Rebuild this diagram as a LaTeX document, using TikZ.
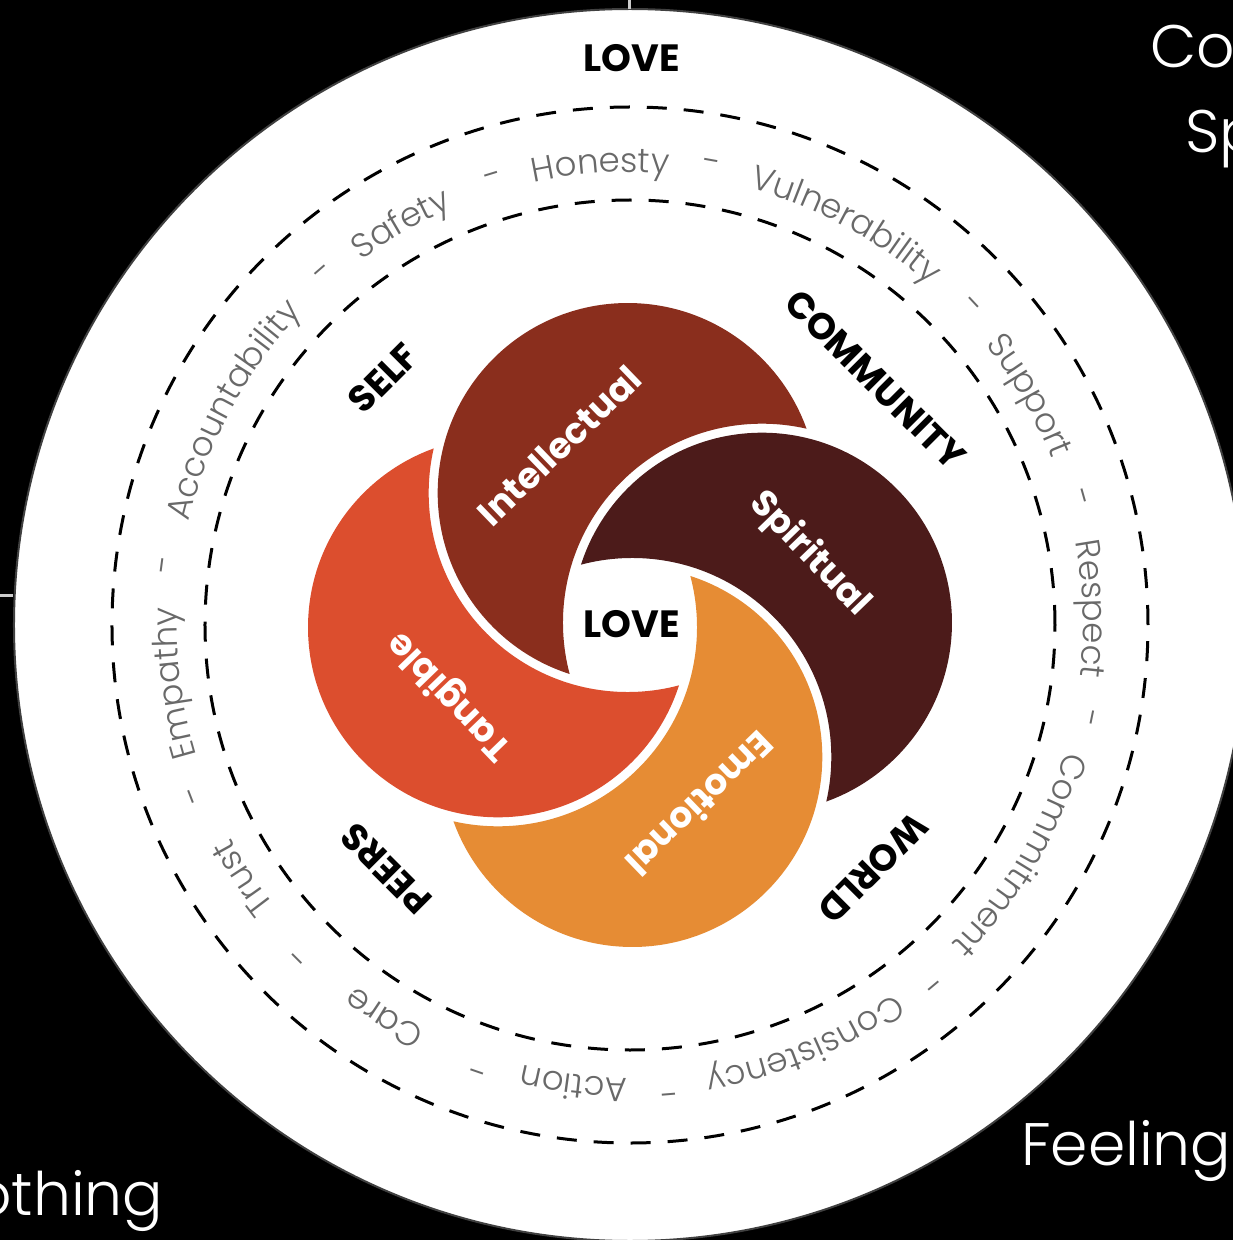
\documentclass[tikz,border=0pt]{standalone}
\usepackage{fontspec}
\usetikzlibrary{decorations.text}

\newfontfamily\labelfont{Poppins Bold}
\newfontfamily\ringfont{Poppins Light}
\newcommand{\ringsize}{\ringfont\fontsize{34}{34}\selectfont}

\definecolor{intellectual}{RGB}{138,46,29}
\definecolor{spiritual}{RGB}{76,27,26}
\definecolor{emotional}{RGB}{230,140,52}
\definecolor{tangible}{RGB}{220,78,46}
\definecolor{ringgray}{RGB}{105,105,105}

\begin{document}
\begin{tikzpicture}[
        x=1pt, y=1pt,
        love/.style={font=\labelfont\fontsize{38}{38}\selectfont, text=black, inner sep=0pt},
        zone/.style={font=\labelfont\fontsize{37}{37}\selectfont, text=black, inner sep=0pt},
        facet/.style={font=\labelfont\fontsize{36}{36}\selectfont, text=white, inner sep=0pt},
        sep/.style={font=\ringsize, text=ringgray, inner sep=0pt},
        aside/.style={font=\ringfont\fontsize{60}{60}\selectfont, text=white, inner sep=0pt, anchor=base west},
        ringtext/.style={decorate, decoration={text along path,
            text/.expanded={|\noexpand\ringsize|#1}, text align=center, text color=ringgray}},
        dashring/.style={draw=black, line width=3pt, dash pattern=on 20pt off 17pt},
        tick/.style={draw=black!20, line width=3pt}
    ]
    % page and background
    \useasboundingbox (-630,-615) rectangle (603,625);
    \clip (-630,-615) rectangle (603,625);
    \fill[black] (-630,-615) rectangle (603,625);

    % big white disc with the two dashed rings
    \fill[white, draw=black!75, line width=2pt] (0,0) circle (616);
    \draw[dashring] (0,0) circle (518);
    \draw[dashring] (0,0) circle (425);
    \draw[tick] (0,625) -- (0,616);
    \draw[tick] (-630,30) -- (-617,30);

    % values along the ring
    \foreach \word/\a in {Honesty/93.7, Vulnerability/61.7, Support/29.9, Respect/2,
            Commitment/-30.5, Consistency/-67.4, Action/-97, Care/-122,
            Trust/-146.8, Empathy/-172.7, Accountability/151.6, Safety/119.7}
        \path[ringtext=\word] ({\a+45}:453) arc[start angle={\a+45}, end angle={\a-45}, radius=453];
    \foreach \a [count=\i] in {107, 79.9, 43, 15.8, -11.5, -50, -85.4, -109, -135, -158.8, 172.6, 131}
        \node[sep, rotate=\a-90] (dash\i) at (\a:466) {-};

    % the four crescents, each cut by the next one
    \foreach \a/\b/\col in {91/1/intellectual, 1/-89/spiritual, -89/-179/emotional, -179/91/tangible} {
        \begin{scope}
            \clip (\a:132) circle (190);
            \fill[\col, even odd rule] (-400,-400) rectangle (400,400) (\b:132) circle (199);
        \end{scope}
    }
    \foreach \name [count=\k from 0] in {Intellectual, Spiritual, Emotional, Tangible}
        \node[facet, rotate={44-90*\k}] (\name) at ({111.5-90*\k}:193) {\name};

    % labels
    \node[love] (lovetop) at (2,567) {LOVE};
    \node[love] (core) at (2,1) {LOVE};
    \node[zone, rotate=45] (self) at (135:349) {SELF};
    \node[zone, rotate=-45] (community) at (45:347) {COMMUNITY};
    \node[zone, rotate=-135] (world) at (-45:344) {WORLD};
    \node[zone, rotate=135] (peers) at (-135:345) {PEERS};

    % text cut by the frame
    \node[aside] (co) at (520,557) {Co};
    \node[aside] (sp) at (555,472) {Sp};
    \node[aside] (feeling) at (391,-540) {Feeling};
    \node[aside] (othing) at (-657,-590) {othing};
\end{tikzpicture}
\end{document}
